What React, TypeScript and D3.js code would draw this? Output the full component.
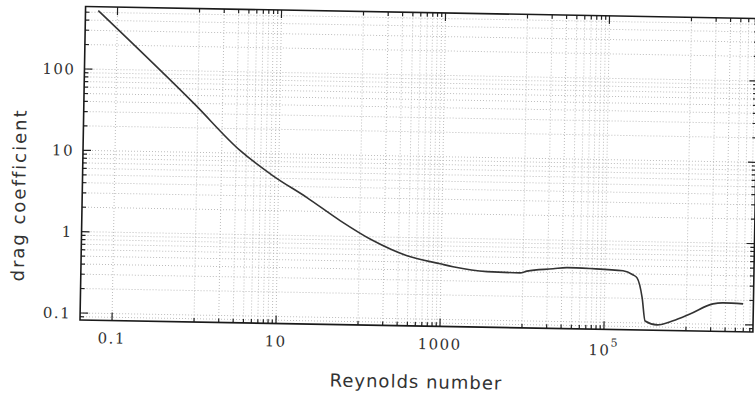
import { useEffect, useRef } from "react";
import * as d3 from "d3";

// drag coefficient curve
const reynolds = [
  0.0583, 0.92, 3.34, 8.55, 22.4, 57.4, 146, 383, 973, 1400, 3650, 9230, 11200,
  23300, 34400, 65800, 166000, 219000, 247000, 288000, 316000, 444000, 693000,
  1.11e6, 2.11e6, 2.8e6, 4.91e6,
];
const dragCoef = [
  525, 38.8, 10.8, 5.35, 2.94, 1.56, 0.9, 0.596, 0.483, 0.447, 0.396, 0.389, 0.41,
  0.443, 0.462, 0.455, 0.434, 0.39, 0.358, 0.204, 0.106, 0.0955, 0.108, 0.132,
  0.178, 0.184, 0.181,
];

const xMajor = [0.1, 10, 1000, 1e5];
const xMajorLabels = [["0.1"], ["10"], ["1000"], ["10", "5"]];
const xMinorDecades = [1, 100, 1e4, 1e6];
const yMajor = [0.1, 1, 10, 100];
const yMajorLabels = ["0.1", "1", "10", "100"];
const yMinorDecades = [0.01, 0.1, 1, 10, 100];

const xDomain = [0.0407, 6.56e6];
const yDomain = [0.082, 586];

const App = () => {
  const svgRef = useRef<SVGSVGElement>(null);

  useEffect(() => {
    const left = 80, right = 753, top = 6.5, bottom = 320;

    const svg = d3.select(svgRef.current);
    svg.selectAll("*").remove();

    // the scanned page sits about one degree off square
    const g = svg.append("g").attr("transform", `rotate(1.02, ${left}, ${bottom})`);

    const x = d3.scaleLog().domain(xDomain).range([left, right]);
    const y = d3.scaleLog().domain(yDomain).range([bottom, top]);

    const inX = (v: number) => v >= xDomain[0] && v <= xDomain[1];
    const inY = (v: number) => v >= yDomain[0] && v <= yDomain[1];

    const xMinor: number[] = [];
    xMinorDecades.forEach(d => d3.range(1, 10).forEach(k => xMinor.push(d * k)));
    const xTicks = xMinor.concat(xMajor).filter(inX);

    const yTicks: number[] = [];
    yMinorDecades.forEach(d => d3.range(1, 10).forEach(k => yTicks.push(d * k)));
    const yAll = yTicks.filter(inY);

    // dotted grid
    const grid = g.append("g")
      .attr("stroke", "#bdbdbd")
      .attr("stroke-width", 1)
      .attr("stroke-dasharray", "1,2");
    grid.selectAll(".vg").data(xTicks).enter().append("line")
      .attr("x1", d => x(d)).attr("x2", d => x(d))
      .attr("y1", top).attr("y2", bottom);
    grid.selectAll(".hg").data(yAll).enter().append("line")
      .attr("x1", left).attr("x2", right)
      .attr("y1", d => y(d)).attr("y2", d => y(d));

    // tick marks on all four sides
    const isXMajor = (d: number) => xMajor.includes(d);
    const isYMajor = (d: number) => yMajor.some(m => Math.abs(m - d) / m < 1e-9);
    const ticks = g.append("g").attr("stroke", "#222").attr("stroke-width", 1.2);
    ticks.selectAll(".xb").data(xTicks).enter().append("line")
      .attr("x1", d => x(d)).attr("x2", d => x(d))
      .attr("y1", bottom).attr("y2", d => bottom - (isXMajor(d) ? 8 : 4));
    ticks.selectAll(".xt").data(xTicks).enter().append("line")
      .attr("x1", d => x(d)).attr("x2", d => x(d))
      .attr("y1", top).attr("y2", d => top + (isXMajor(d) ? 8 : 4));
    ticks.selectAll(".yl").data(yAll).enter().append("line")
      .attr("y1", d => y(d)).attr("y2", d => y(d))
      .attr("x1", left).attr("x2", d => left + (isYMajor(d) ? 8 : 4));
    ticks.selectAll(".yr").data(yAll).enter().append("line")
      .attr("y1", d => y(d)).attr("y2", d => y(d))
      .attr("x1", right).attr("x2", d => right - (isYMajor(d) ? 8 : 4));

    // frame
    g.append("rect")
      .attr("x", left).attr("y", top)
      .attr("width", right - left).attr("height", bottom - top)
      .attr("fill", "none")
      .attr("stroke", "#1a1a1a")
      .attr("stroke-width", 1.6);

    // curve
    const line = d3.line<number>()
      .x((_, i) => x(reynolds[i]))
      .y(d => y(d))
      .curve(d3.curveMonotoneX);
    g.append("path")
      .datum(dragCoef)
      .attr("d", line)
      .attr("fill", "none")
      .attr("stroke", "#333")
      .attr("stroke-width", 1.6);

    // x tick labels
    const xl = g.append("g")
      .style("font-family", "'DejaVu Serif', serif")
      .style("font-size", "15px")
      .attr("fill", "#333")
      .attr("text-anchor", "middle");
    xMajor.forEach((v, i) => {
      const parts = xMajorLabels[i];
      const t = xl.append("text")
        .attr("x", x(v))
        .attr("y", parts.length > 1 ? bottom + 26 : bottom + 23)
        .style("letter-spacing", "1.5px");
      t.append("tspan").text(parts[0]);
      if (parts.length > 1) {
        t.append("tspan").attr("dy", -9).style("font-size", "11px").text(parts[1]);
      }
    });

    // y tick labels
    g.append("g")
      .style("font-family", "'DejaVu Serif', serif")
      .style("font-size", "15px")
      .attr("fill", "#333")
      .attr("text-anchor", "end")
      .selectAll("text")
      .data(yMajor)
      .enter()
      .append("text")
      .attr("x", left - 9)
      .attr("y", d => y(d) + 5.5)
      .style("letter-spacing", "1.5px")
      .text((_, i) => yMajorLabels[i]);

    // axis titles
    g.append("text")
      .attr("x", 417)
      .attr("y", 382)
      .attr("text-anchor", "middle")
      .style("font-family", "'DejaVu Sans', sans-serif")
      .style("font-size", "18px")
      .style("letter-spacing", "1px")
      .attr("fill", "#333")
      .text("Reynolds number");

    g.append("text")
      .attr("transform", `translate(23,196) rotate(-90)`)
      .attr("text-anchor", "middle")
      .style("font-family", "'DejaVu Sans', sans-serif")
      .style("font-size", "18px")
      .style("letter-spacing", "2px")
      .attr("fill", "#333")
      .text("drag coefficient");
  }, []);

  return (
    <svg
      ref={svgRef}
      width={755}
      height={394}
      style={{ position: "absolute", left: 0, top: 0, background: "#fff" }}
    />
  );
};

export default App;
